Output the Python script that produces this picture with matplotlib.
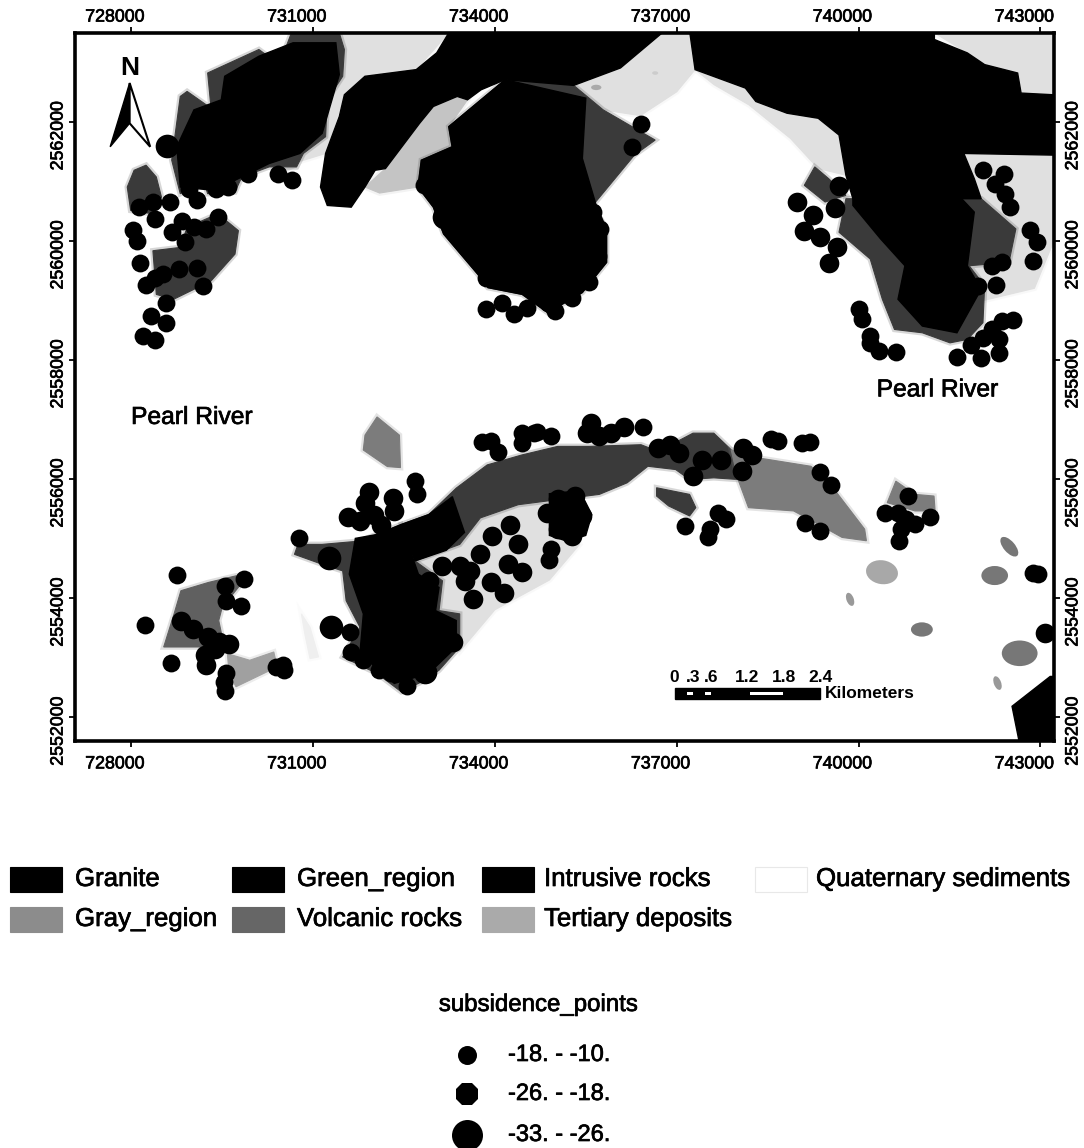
import matplotlib
matplotlib.use("Agg")
import matplotlib.pyplot as plt
import matplotlib.patheffects as pe
from matplotlib.lines import Line2D
from matplotlib.patches import Ellipse, Polygon, Rectangle
from matplotlib.transforms import ScaledTranslation

plt.rcParams["font.family"] = ["Liberation Sans", "DejaVu Sans"]

W, H = 1084, 1148

x_ticks = [728000, 731000, 734000, 737000, 740000, 743000]
y_ticks = [2552000, 2554000, 2556000, 2558000, 2560000, 2562000]

# light deposits, drawn first
tertiary_nw = [(731435,2563490),(733240,2563490),(732704,2562873),(731858,2562761),(731519,2562451),(731209,2561465),(730673,2561296),(730400,2561100),(730730,2561239),(731237,2562366),(731519,2563211)]
tertiary_gap = [(732196,2561211),(732760,2561972),(732986,2562254),(733380,2562423),(733550,2562366),(733240,2561915),(733296,2561577),(732788,2561352),(732732,2560901),(732100,2560800),(731858,2560901)]
tertiary_top = [(735301,2562608),(736073,2562901),(736760,2563490),(737217,2563490),(737303,2562873),(737000,2562500),(736400,2562100),(735787,2562197)]
tertiary_coast = [(737303,2562873),(738133,2562563),(738819,2562141),(739334,2562056),(739677,2561775),(739791,2561099),(739334,2561212),(738876,2561718),(738190,2562282),(737618,2562619)]
tertiary_ne = [(741250,2563490),(743223,2563490),(743223,2562450),(742680,2562479),(742623,2562816),(742079,2562957),(741793,2563154)]
tertiary_east = [(741736,2561465),(743223,2561437),(743223,2560000),(742900,2559200),(742079,2559000),(741823,2559579),(742480,2559635),(742594,2560198),(742022,2560705),(741908,2561043)]
tertiary_arc = [(732683,2554621),(733421,2554899),(733761,2555344),(734386,2555566),(735000,2555600),(735400,2554900),(734900,2554300),(734000,2553800),(733421,2553100),(733080,2553787),(733137,2554288)]
tertiary_smear = [(730810,2553732),(730952,2553509),(731093,2553009),(730952,2552981),(730866,2553398)]

# volcanic and gray rock units
volcanic_nw = [(730645,2563490),(731435,2563490),(731519,2563211),(731491,2562761),(731237,2562366),(731209,2561746),(730843,2561465),(730730,2561239),(730279,2561239),(729827,2561070),(729714,2560817),(729263,2560789),(729207,2560986),(728812,2560789),(728671,2561352),(728812,2562423),(728925,2562507),(729320,2562225),(729264,2562817),(730109,2563211),(730448,2562958)]
volcanic_lobe_a = [(728248,2561268),(728417,2561070),(728502,2560732),(728361,2560451),(727994,2560507),(727938,2560901),(728051,2561183)]
volcanic_lobe_b = [(729433,2560451),(729771,2560169),(729715,2559775),(729320,2559324),(728699,2559014),(728417,2559098),(728361,2559831),(728812,2559887),(728925,2560225)]
volcanic_mid = [(733240,2561915),(733296,2561577),(732788,2561352),(732732,2560901),(732986,2560563),(733155,2560113),(733719,2559437),(733888,2559211),(734452,2559098),(734872,2558791),(735444,2559129),(735844,2559635),(735844,2560198),(735616,2560592),(736302,2561437),(736645,2561690),(735787,2562197),(735301,2562608),(734170,2562704)]
volcanic_east = [(739906,2560705),(742022,2560705),(742594,2560198),(742480,2559635),(741823,2559579),(742079,2559241),(742051,2558622),(741794,2558341),(741508,2558284),(741051,2558453),(740592,2558509),(740392,2559016),(740192,2559692),(739677,2560142),(739791,2560705)]
volcanic_knob = [(739277,2561240),(739505,2561043),(739791,2560761),(739448,2560649),(739105,2560930)]
volcanic_arc = [(732456,2555233),(732910,2555400),(733364,2555844),(733875,2556234),(734442,2556400),(735038,2556545),(735553,2556545),(736411,2556573),(736697,2556461),(737269,2556767),(737612,2556767),(737898,2556489),(738012,2555989),(737612,2556017),(737212,2555989),(736983,2556156),(736525,2556211),(736182,2555933),(735724,2555739),(734386,2555566),(733761,2555344),(733421,2554899),(732683,2554621)]
volcanic_sw = [(730753,2554899),(731150,2554899),(731775,2554955),(732456,2555233),(732683,2554621),(733137,2554288),(733080,2553787),(733421,2553732),(733421,2553176),(733080,2552786),(732853,2552620),(732456,2552425),(732058,2552731),(731491,2553009),(731775,2553509),(731548,2553954),(731491,2554454),(731150,2554566),(730696,2554732)]
volcanic_patch = [(736668,2555850),(737212,2555739),(737315,2555516),(737212,2555377),(736868,2555544),(736668,2555711)]
gray_tail = [(737898,2556489),(738356,2556350),(739214,2556211),(739557,2555878),(740100,2555155),(740129,2554960),(739728,2555016),(739385,2555210),(738928,2555461),(738184,2555516),(738012,2555989)]
gray_isle = [(732058,2557040),(732427,2556734),(732444,2556189),(732228,2556206),(731831,2556484),(731859,2556734)]
gray_sw = [(728823,2554121),(729277,2554260),(729731,2554371),(729901,2554343),(729504,2553843),(729447,2553620),(729504,2553342),(729220,2553176),(728539,2553176),(728710,2553732)]
gray_east = [(740615,2555961),(740930,2555739),(741244,2555711),(741262,2555461),(740930,2555461),(740472,2555600)]
light_patch = [(729589,2553064),(729958,2552953),(730355,2553092),(730412,2552842),(730129,2552703),(729731,2552508),(729618,2552731)]

# black granite and intrusive bodies
granite_top = [(733240,2563490),(733042,2563155),(732704,2562873),(731858,2562761),(731519,2562451),(731435,2562085),(731209,2561465),(731125,2560901),(731237,2560592),(731632,2560563),(731858,2560901),(732027,2561183),(732196,2561211),(732760,2561972),(732986,2562254),(733380,2562423),(733550,2562366),(733775,2562535),(734170,2562704),(735301,2562608),(736073,2562901),(736760,2563490)]
granite_east = [(737217,2563490),(737303,2562873),(738133,2562563),(738305,2562338),(738819,2562141),(739334,2562056),(739677,2561775),(739791,2561099),(739906,2560705),(742022,2560705),(741908,2561043),(741736,2561465),(743223,2561437),(743223,2562450),(742680,2562479),(742623,2562816),(742079,2562957),(741793,2563154),(741250,2563379),(741250,2563490)]
granite_corner = [(743223,2552681),(743160,2552681),(742531,2552180),(742646,2551597),(743223,2551597)]
intrusive_nw = [(729038,2562197),(729489,2562366),(729545,2562761),(730109,2563098),(730673,2563324),(731378,2563324),(731435,2562789),(731153,2561803),(730786,2561465),(730279,2561296),(729376,2560845),(728812,2560901),(728755,2561577)]
intrusive_mid = [(733240,2561915),(733296,2561577),(732788,2561352),(732732,2560901),(732986,2560563),(733155,2560113),(733719,2559437),(733888,2559211),(734452,2559098),(734872,2558791),(735444,2559129),(735844,2559635),(735844,2560198),(735673,2560592),(735444,2561381),(735501,2562394),(734170,2562704)]
intrusive_east = [(739906,2560705),(741700,2560705),(741908,2560480),(741794,2559579),(742022,2559185),(741622,2558453),(741051,2558566),(740650,2559016),(740764,2559579),(740364,2560029),(739906,2560593)]
intrusive_sw = [(731700,2555000),(732058,2555066),(732456,2555233),(732740,2554399),(733080,2554176),(733023,2553787),(733364,2553620),(733364,2553176),(732910,2552731),(732342,2552564),(731775,2553064),(731832,2553732),(731600,2554400)]
intrusive_arc_a = [(732456,2555233),(732910,2555400),(733300,2555700),(733500,2555100),(733200,2554800),(732683,2554621)]
intrusive_arc_b = [(734900,2555750),(735400,2555800),(735600,2555400),(735500,2555050),(735200,2554950),(734900,2555050)]

# small outcrops: easting, northing, width, height, angle, gray
outcrop_x = [742486, 742245, 740386, 739860, 741044, 742657, 742291, 735673, 736645]
outcrop_y = [2554860, 2554376, 2554432, 2553976, 2553470, 2553070, 2552570, 2562574, 2562816]
outcrop_w = [400, 440, 530, 120, 360, 590, 120, 170, 100]
outcrop_h = [190, 320, 400, 230, 240, 430, 240, 90, 60]
outcrop_a = [-50, 0, -10, 20, 0, 0, 20, 0, 0]
outcrop_c = ["#777777", "#777777", "#a8a8a8", "#999999", "#777777", "#777777", "#999999", "#aaaaaa", "#cccccc"]

# subsidence points, by class
pts_10_x = [728643,728361,728135,728389,728840,728682,729094,728953,729404,729602,729929,730420,730662,729433,729038,729235,728897,728034,728096,728152,728248,728389,728530,728795,729179,728575,728333,728575,728192,728400,729094,
            733860,734114,734322,734537,732828,733860,736417,736256,735730,735702,735559,735273,734987,735444,735101,735616,735330,734872,
            740009,740049,740192,740192,740335,740609,741622,742011,741851,742051,742308,742308,742194,742365,742548,742051,742394,742251,742423,742491,742823,742937,742869,742262,742194,742365,741965,
            728766,729856,729550,729562,729816,728227,728664,729561,729533,729550,730384,730514,730526,730764,731604,731632,731830,732087,732285,732552,732172,732683,732723,
            733790,733931,734045,734442,734442,734641,734695,734924,736439,738556,738670,739071,739202,739357,739545,739111,739357,737137,737681,737812,737555,737515,740815,740432,740644,740787,740930,741176,740701,740661,742874,742960,734924,734895]
pts_10_y = [2560648,2560648,2560563,2560366,2560338,2560141,2560676,2560873,2560873,2560901,2561127,2561127,2561025,2560394,2560225,2560197,2559972,2560180,2559989,2559622,2559256,2559380,2559437,2559521,2559239,2558958,2558732,2558620,2558394,2558338,2559549,
            2558845,2558958,2558761,2558873,2560930,2559380,2561955,2561578,2560198,2559748,2559298,2559044,2558819,2559635,2559185,2560480,2560030,2558960,
            2558847,2558690,2558397,2558284,2558144,2558127,2558048,2558031,2558256,2558369,2558115,2558341,2558510,2558650,2558667,2561184,2561127,2560958,2560790,2560564,2560182,2559973,2559664,2559253,2559579,2559635,2559241,
            2554382,2554315,2554204,2553943,2553871,2553548,2552914,2552731,2552592,2552442,2552842,2552870,2552786,2554999,2553426,2553092,2552953,2552797,2552731,2552519,2553176,2555956,2555750,
            2556623,2556634,2556445,2556762,2556595,2556762,2556795,2556723,2556878,2556667,2556628,2556600,2556617,2556111,2555894,2555255,2555116,2555210,2555433,2555333,2555155,2555016,2555711,2555422,2555422,2555322,2555249,2555366,2555155,2554949,2554421,2554404,2554821,2554643]
pts_18_x = [738990,739248,739105,739362,739637,739517,739677,739608,
            728823,729022,729277,729618,729447,729220,729237,729391,
            731933,731859,732314,731576,731775,732002,732342,732115,
            733137,733421,733506,733648,733761,733960,734244,734386,733932,734147,734215,734442,733591,
            733193,733307,733023,732626,732626,732796,732512,732512,732910,
            735581,735524,735724,735924,736125,736697,736897,737040,737269,737412,737726,738098,738241,738070,
            735267,735324,735038,735267,735438,735038,734866,743075]
pts_18_y = [2560649,2560424,2560170,2560058,2559889,2559624,2560913,2560553,
            2553620,2553481,2553342,2553231,2553259,2553037,2552870,2553148,
            2555772,2555594,2555678,2555361,2555288,2555400,2555455,2555233,
            2554538,2554538,2554288,2553982,2554732,2555038,2555222,2554899,2554260,2554082,2554566,2554427,2554454,
            2553287,2553259,2553120,2553176,2553732,2554010,2553398,2552898,2554288,
            2556934,2556767,2556712,2556767,2556878,2556517,2556573,2556434,2556044,2556322,2556322,2556517,2556406,2556128,
            2555488,2555711,2555655,2555044,2555377,2555155,2555433,2553403]
pts_26_x = [728587, 733155, 731264, 731292, 732853]
pts_26_y = [2561594, 2560394, 2554677, 2553509, 2552759]

# north arrow and scale bar readings
arrow_left = [(727977,2562648),(727656,2561577),(727977,2561972)]
arrow_right = [(727977,2562648),(728316,2561577),(727977,2561972)]
bar_km = [0, 0.3, 0.6, 1.2, 1.8, 2.4]
bar_labels = ["0", ".3", ".6", "1.2", "1.8", "2.4"]
bar_white_km = [(0.21, 0.30), (0.50, 0.60), (1.24, 1.78)]

legend_names = [["Granite", "Green_region", "Intrusive rocks", "Quaternary sediments"],
                ["Gray_region", "Volcanic rocks", "Tertiary deposits"]]
legend_colors = [["#000000", "#000000", "#000000", "#ffffff"],
                 ["#8c8c8c", "#666666", "#aaaaaa"]]
class_labels = ["-18. - -10.", "-26. - -18.", "-33. - -26."]
heavy = [pe.withStroke(linewidth=0.5, foreground="black")]


def figx(px):
    return px / W


def figy(py):
    return 1 - py / H


def rock(ax, poly, col, z):
    # soft edge first, the scan bleeds every boundary a little
    ax.add_patch(Polygon(poly, fc="none", ec=col, lw=4, alpha=0.2, zorder=z))
    ax.add_patch(Polygon(poly, fc=col, ec=col, lw=0.8, zorder=z))


fig = plt.figure(figsize=(W / 100, H / 100), dpi=100)
ax = fig.add_axes([figx(75), figy(741), 979 / W, 708 / H])
ax.set_xlim(727076, 743223)
ax.set_ylim(2551597, 2563488)

for poly in [tertiary_nw, tertiary_top, tertiary_coast, tertiary_ne, tertiary_east, tertiary_arc]:
    rock(ax, poly, "#e0e0e0", 1)
rock(ax, tertiary_gap, "#c4c4c4", 1)
rock(ax, tertiary_smear, "#efefef", 1)

for poly in [volcanic_nw, volcanic_lobe_a, volcanic_lobe_b, volcanic_mid, volcanic_east, volcanic_knob, volcanic_arc, volcanic_sw, volcanic_patch]:
    rock(ax, poly, "#3a3a3a", 2)
for poly in [gray_tail, gray_isle, gray_east]:
    rock(ax, poly, "#7c7c7c", 2)
rock(ax, gray_sw, "#606060", 2)
rock(ax, light_patch, "#a0a0a0", 2)

for i in range(len(outcrop_x)):
    ax.add_patch(Ellipse((outcrop_x[i], outcrop_y[i]), outcrop_w[i], outcrop_h[i], angle=outcrop_a[i],
                         fc=outcrop_c[i], ec="none", zorder=2))

for poly in [intrusive_nw, intrusive_mid, intrusive_east, intrusive_sw, intrusive_arc_a, intrusive_arc_b,
             granite_top, granite_east, granite_corner]:
    ax.add_patch(Polygon(poly, fc="black", ec="black", lw=1, zorder=3))

ax.scatter(pts_10_x, pts_10_y, s=165, c="black", lw=0, zorder=4)
ax.scatter(pts_18_x, pts_18_y, s=200, c="black", lw=0, zorder=4)
ax.scatter(pts_26_x, pts_26_y, s=290, c="black", lw=0, zorder=4)

# north arrow
ax.add_patch(Polygon(arrow_left, fc="black", ec="black", lw=1, zorder=5))
ax.add_patch(Polygon(arrow_right, fc="white", ec="black", lw=1.5, zorder=5))
ax.text(727985, 2562901, "N", fontsize=19, fontweight="bold", ha="center", va="center", zorder=5)

ax.text(728000, 2557040, "Pearl River", fontsize=17.7, va="center", zorder=5, path_effects=heavy)
ax.text(740298, 2557502, "Pearl River", fontsize=17.7, va="center", zorder=5, path_effects=heavy)

# scale bar
bar_x0 = 736966
bar_y0, bar_y1 = 2552302, 2552487
ax.add_patch(Rectangle((bar_x0, bar_y0), bar_km[-1] * 1000, bar_y1 - bar_y0, fc="black", ec="black", zorder=5))
for a, b in bar_white_km:
    ax.add_patch(Rectangle((bar_x0 + a * 1000, bar_y0 + 60), (b - a) * 1000, 65, fc="white", ec="none", zorder=6))
for km, lab in zip(bar_km, bar_labels):
    ax.text(bar_x0 + km * 1000, bar_y1 + 50, lab, fontsize=12.5, fontweight="bold", ha="center", va="bottom", zorder=6)
ax.text(bar_x0 + 2480, (bar_y0 + bar_y1) / 2, "Kilometers", fontsize=12.5, fontweight="bold", va="center", zorder=6)

# frame and ticks, labels sit off to one side of their ticks
for s in ax.spines.values():
    s.set_linewidth(2.6)
ax.set_xticks(x_ticks)
ax.set_yticks(y_ticks)
ax.set_xticklabels([str(v) for v in x_ticks], fontsize=12.8)
ax.set_yticklabels([str(v) for v in y_ticks], fontsize=12.8, rotation=90, va="center")
ax.tick_params(axis="both", top=True, right=True, labeltop=True, labelright=True,
               length=4.5, width=1.3, pad=3)
to_inch = fig.dpi_scale_trans
for t in ax.xaxis.get_major_ticks():
    t.label1.set_transform(t.label1.get_transform() + ScaledTranslation(-16 / 100, -4 / 100, to_inch))
    t.label2.set_transform(t.label2.get_transform() + ScaledTranslation(-16 / 100, -3 / 100, to_inch))
    t.label1.set_path_effects(heavy)
    t.label2.set_path_effects(heavy)
for t in ax.yaxis.get_major_ticks():
    t.label1.set_transform(t.label1.get_transform() + ScaledTranslation(2 / 100, -14 / 100, to_inch))
    t.label2.set_transform(t.label2.get_transform() + ScaledTranslation(0, -14 / 100, to_inch))
    t.label2.set_rotation(90)
    t.label2.set_va("center")
    t.label1.set_path_effects(heavy)
    t.label2.set_path_effects(heavy)

# rock legend
swatch_left = [10, 232, 482, 755]
text_left = [75, 297, 544, 816]
row_y = [879, 919]
for r, names in enumerate(legend_names):
    for c, name in enumerate(names):
        col = legend_colors[r][c]
        edge = "#e8e8e8" if col == "#ffffff" else col
        fig.add_artist(Rectangle((figx(swatch_left[c]), figy(row_y[r] + 12.5)), 52 / W, 25 / H, fc=col, ec=edge,
                                 lw=0.8, transform=fig.transFigure))
        fig.text(figx(text_left[c]), figy(row_y[r]), name, fontsize=18.6, va="center", path_effects=heavy)

# subsidence legend
fig.text(figx(538), figy(1005), "subsidence_points", fontsize=17.3, ha="center", va="center", path_effects=heavy)
class_y = [1055, 1094, 1135]
class_size = [19, 24, 31]
class_marker = ["o", "8", "o"]
for y, d, m, lab in zip(class_y, class_size, class_marker, class_labels):
    fig.add_artist(Line2D([figx(467)], [figy(y)], marker=m, ms=d * 0.72, mfc="black", mec="black", mew=0,
                          transform=fig.transFigure))
    fig.text(figx(508), figy(y), lab, fontsize=17, va="center", path_effects=heavy)

fig.savefig("out.png", dpi=100)
